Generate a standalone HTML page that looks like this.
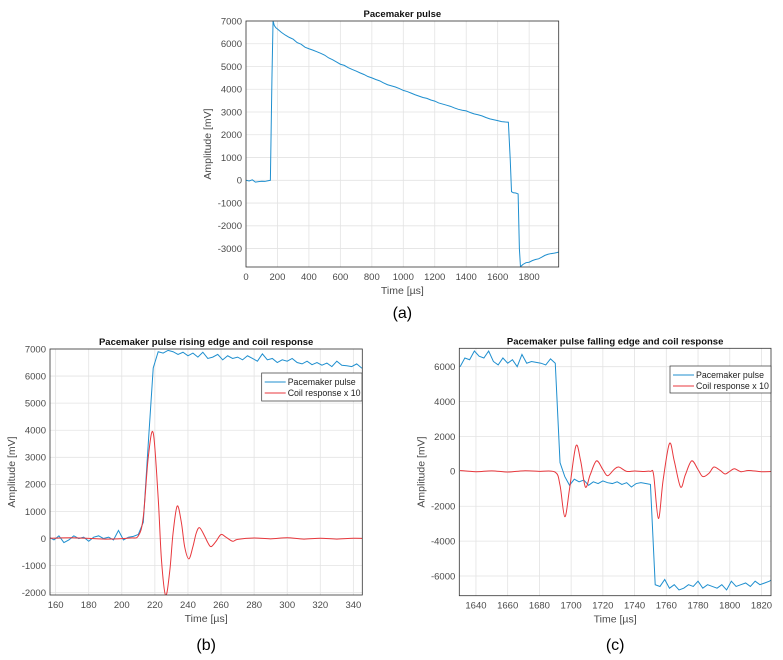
<!DOCTYPE html>
<html><head><meta charset="utf-8">
<style>
html,body{margin:0;padding:0;background:#fff;width:783px;height:660px;overflow:hidden}
svg{display:block}
text{font-family:"Liberation Sans",sans-serif}
</style></head>
<body>
<svg id="fig" width="783" height="660" viewBox="0 0 783 660"></svg>
<script>
// ---- Chart (a) data ----
const aTimes=[0,20,40,60,80,100,120,140,155,165,172,180,190,200,225,250,275,300,325,350,375,400,425,450,475,500,525,550,575,600,625,650,675,700,725,750,775,800,825,850,875,900,925,950,975,1000,1025,1050,1075,1100,1125,1150,1175,1200,1225,1250,1275,1300,1325,1350,1375,1400,1425,1450,1475,1500,1525,1550,1575,1600,1625,1650,1668,1680,1688,1700,1715,1730,1738,1745,1760,1780,1800,1820,1840,1860,1880,1900,1920,1940,1960,1975,1990];
const aPace=[0,-30,20,-80,-60,-40,-50,-20,0,4500,7000,6800,6700,6650,6500,6380,6280,6200,6050,5980,5850,5780,5720,5650,5580,5500,5380,5300,5200,5100,5050,4950,4870,4800,4720,4650,4560,4500,4430,4370,4280,4200,4150,4100,4030,3950,3900,3830,3760,3700,3640,3600,3530,3480,3400,3350,3300,3250,3180,3120,3080,3050,2980,2920,2880,2830,2760,2700,2660,2620,2580,2560,2550,900,-500,-550,-560,-600,-3000,-3800,-3700,-3620,-3600,-3530,-3480,-3450,-3380,-3300,-3250,-3220,-3200,-3180,-3150];
const aXTicks=[0,200,400,600,800,1000,1200,1400,1600,1800];
const aYTicks=[-3000,-2000,-1000,0,1000,2000,3000,4000,5000,6000,7000];
// ---- Chart (b) data ----
const bPaceTimes=[153,156,159,162,165,168,171,174,177,180,183,186,189,192,195,198,201,204,207,210,213,216,219,222,225,228,231,234,237,240,243,246,249,252,255,258,261,264,267,270,273,276,279,282,285,288,291,294,297,300,303,306,309,312,315,318,321,324,327,330,333,336,339,342,345,348,351];
const bPace=[-100,50,-50,100,-150,-50,100,0,50,-100,50,100,0,50,-50,300,-50,50,80,150,600,3500,6300,6900,6850,6950,6900,6800,6880,6750,6850,6700,6880,6650,6700,6800,6600,6750,6650,6700,6600,6750,6650,6550,6820,6600,6650,6500,6600,6550,6650,6500,6450,6550,6420,6500,6400,6480,6350,6550,6400,6380,6350,6450,6300,6200,6100];
const bCoilTimes=[153,170,190,205,210,213,216,219,222,224,226.5,229,231,233.5,236,238,240.5,243,245,247,250,252,254,257,260,263,267,270,280,290,300,310,320,330,340,351];
const bCoil=[0,30,-20,20,100,800,3000,3900,1500,-800,-2100,-1200,200,1200,600,-300,-750,-300,200,400,100,-150,-300,-100,150,50,-100,-30,20,-10,30,-20,10,-20,10,0];
const bXTicks=[160,180,200,220,240,260,280,300,320,340];
const bYTicks=[-2000,-1000,0,1000,2000,3000,4000,5000,6000,7000];
// ---- Chart (c) data ----
const cPaceTimes=[1630,1633,1636,1639,1642,1645,1648,1651,1654,1657,1660,1663,1666,1669,1672,1675,1678,1681,1684,1687,1690,1693,1696,1699,1702,1705,1708,1711,1714,1717,1720,1723,1726,1729,1732,1735,1738,1741,1744,1747,1750,1753,1756,1759,1762,1765,1768,1771,1774,1777,1780,1783,1786,1789,1792,1795,1798,1801,1804,1807,1810,1813,1816,1819,1822,1825,1828];
const cPace=[6000,6500,6400,6900,6600,6500,6900,6300,6100,6500,6200,6400,6000,6700,6200,6300,6250,6200,6100,6450,6200,500,-300,-800,-450,-600,-500,-800,-600,-700,-550,-650,-700,-600,-750,-650,-900,-700,-650,-700,-750,-6500,-6600,-6200,-6700,-6500,-6800,-6700,-6500,-6600,-6300,-6700,-6500,-6600,-6700,-6500,-6800,-6300,-6600,-6500,-6400,-6600,-6300,-6500,-6400,-6300,-6100];
const cCoilTimes=[1630,1640,1650,1660,1670,1680,1690,1693,1696,1699,1703,1706,1709,1712,1716,1720,1723,1727,1730,1735,1740,1745,1750,1752,1755,1758,1762,1765,1769,1772,1776,1780,1783,1787,1790,1794,1797,1800,1803,1807,1812,1820,1828];
const cCoil=[50,-20,30,-40,30,0,-50,-800,-2600,-1000,1450,600,-900,-200,600,100,-250,100,250,0,20,-10,0,-200,-2700,-500,1600,600,-900,-200,600,100,-300,-100,250,50,-150,0,150,-20,50,-20,0];
const cXTicks=[1640,1660,1680,1700,1720,1740,1760,1780,1800,1820];
const cYTicks=[-6000,-4000,-2000,0,2000,4000,6000];

const NS="http://www.w3.org/2000/svg";
const svg=document.getElementById('fig');
function mk(tag,attrs,parent){const e=document.createElementNS(NS,tag);for(const k in attrs)e.setAttribute(k,attrs[k]);(parent||svg).appendChild(e);return e;}
function smoothPath(pts){let d='M'+pts[0][0]+','+pts[0][1];for(let i=0;i<pts.length-1;i++){const p0=pts[i-1]||pts[i],p1=pts[i],p2=pts[i+1],p3=pts[i+2]||p2;const c1x=p1[0]+(p2[0]-p0[0])/6,c1y=p1[1]+(p2[1]-p0[1])/6,c2x=p2[0]-(p3[0]-p1[0])/6,c2y=p2[1]-(p3[1]-p1[1])/6;d+=' C'+c1x+','+c1y+' '+c2x+','+c2y+' '+p2[0]+','+p2[1];}return d;}

function chart(o){
  const g=mk('g',{});
  
  
  const X=v=>o.L+(v-o.x0)/(o.x1-o.x0)*(o.R-o.L);
  const Y=v=>o.B-(v-o.y0)/(o.y1-o.y0)*(o.B-o.T);
  o.xt.forEach(t=>{const x=X(t);
    const gl=mk('line',{x1:x,x2:x,y1:o.T,y2:o.B,stroke:'#e3e3e3','stroke-width':0.8},g);
    
    const tx=mk('text',{x:x,y:o.B+13,'font-size':9.5,fill:'#4a4a4a','text-anchor':'middle'},g);tx.textContent=t;
    });
  o.yt.forEach(t=>{const y=Y(t);
    const gl=mk('line',{x1:o.L,x2:o.R,y1:y,y2:y,stroke:'#e3e3e3','stroke-width':0.8},g);
    
    const tx=mk('text',{x:o.L-4,y:y+3.3,'font-size':9.5,fill:'#4a4a4a','text-anchor':'end'},g);tx.textContent=t;
    });
  const cid='clip-'+o.name;
  const cp=mk('clipPath',{id:cid},g);mk('rect',{x:o.L,y:o.T,width:o.R-o.L,height:o.B-o.T},cp);
  o.series.forEach(s=>{
    const pts=s.t.map((t,i)=>[X(t),Y(s.v[i])]);
    const d=s.smooth?smoothPath(pts):'M'+pts.map(p=>p[0].toFixed(2)+','+p[1].toFixed(2)).join(' L');
    const p=mk('path',{d:d,fill:'none',stroke:s.color,'stroke-width':1,'clip-path':'url(#'+cid+')'},g);
    });
  const box=mk('rect',{x:o.L,y:o.T,width:o.R-o.L,height:o.B-o.T,fill:'none',stroke:'#333','stroke-width':0.8},g);
  
  const ti=mk('text',{x:(o.L+o.R)/2,y:o.T-4,'font-size':9.5,'font-weight':'bold',fill:'#111','text-anchor':'middle'},g);ti.textContent=o.title;
  
  const xl=mk('text',{x:(o.L+o.R)/2,y:o.B+27,'font-size':10.5,fill:'#4a4a4a','text-anchor':'middle'},g);xl.textContent='Time [µs]';
  
  const yx=o.L-35,yy=(o.T+o.B)/2;
  const yl=mk('text',{x:yx,y:yy,'font-size':10.5,fill:'#4a4a4a','text-anchor':'middle',transform:'rotate(-90 '+yx+' '+yy+')'},g);yl.textContent='Amplitude [mV]';
  
  const sl=mk('text',{x:(o.L+o.R)/2,y:o.sub[1],'font-size':16,fill:'#000','text-anchor':'middle','font-family':'Liberation Serif, serif'},g);sl.textContent=o.sub[0];
  
  if(o.legend){const [lx,ly,lw,lh]=o.legend;
    const lg=mk('g',{},g);
    mk('rect',{x:lx,y:ly,width:lw,height:lh,fill:'#fff',stroke:'#333','stroke-width':0.7},lg);
    o.series.forEach((s,i)=>{const yy2=ly+9+i*11;
      mk('line',{x1:lx+3,x2:lx+24,y1:yy2,y2:yy2,stroke:s.color,'stroke-width':1},lg);
      const t=mk('text',{x:lx+26,y:yy2+3.2,'font-size':8.8,fill:'#222'},lg);t.textContent=s.label;
      });}
}
const BLUE='#1f8fcf',RED='#e8373c';
chart({name:'chart-a',L:246,R:558.7,T:21,B:267,x0:0,x1:1988,y0:-3810,y1:7000,xt:aXTicks,yt:aYTicks,title:'Pacemaker pulse',sub:['(a)',318],
  series:[{name:'pacemaker-pulse-line',t:aTimes,v:aPace,color:BLUE,label:'Pacemaker pulse'}]});
chart({name:'chart-b',L:50,R:362.3,T:349,B:595,x0:156.6,x1:345.4,y0:-2085,y1:7000,xt:bXTicks,yt:bYTicks,title:'Pacemaker pulse rising edge and coil response',sub:['(b)',650],legend:[261.7,373,100.3,28],
  series:[{name:'pacemaker-pulse-line',t:bPaceTimes,v:bPace,color:BLUE,label:'Pacemaker pulse'},{name:'coil-response-line',t:bCoilTimes,v:bCoil,color:RED,smooth:true,label:'Coil response x 10'}]});
chart({name:'chart-c',L:459.3,R:771,T:348.3,B:595.7,x0:1629.5,x1:1826,y0:-7130,y1:7055,xt:cXTicks,yt:cYTicks,title:'Pacemaker pulse falling edge and coil response',sub:['(c)',650],legend:[670,366,101,27],
  series:[{name:'pacemaker-pulse-line',t:cPaceTimes,v:cPace,color:BLUE,label:'Pacemaker pulse'},{name:'coil-response-line',t:cCoilTimes,v:cCoil,color:RED,smooth:true,label:'Coil response x 10'}]});
</script>
</body></html>
